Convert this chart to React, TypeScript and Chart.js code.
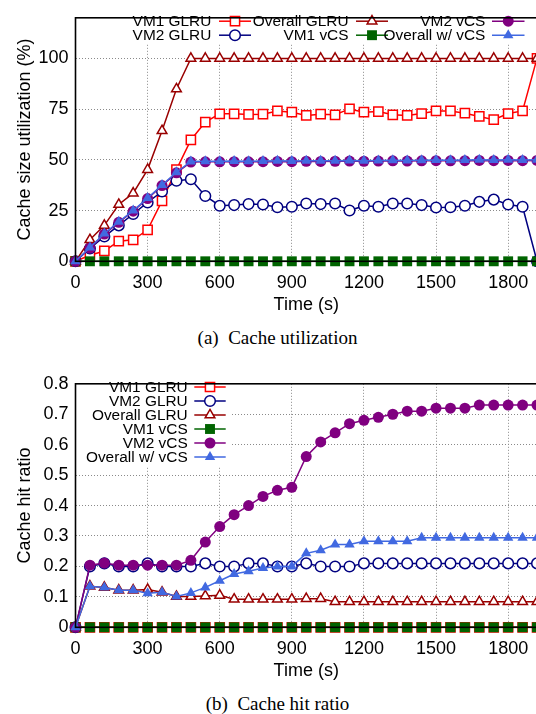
import React, { useEffect, useRef } from "react";
import { Chart, registerables } from "chart.js";

Chart.register(...registerables);

// ---------------- data ----------------
const TIMES = [0, 60, 120, 180, 240, 300, 360, 420, 480, 540, 600, 660, 720, 780, 840, 900, 960, 1020, 1080, 1140, 1200, 1260, 1320, 1380, 1440, 1500, 1560, 1620, 1680, 1740, 1800, 1860, 1920];
const X_TICKS = [0, 300, 600, 900, 1200, 1500, 1800];
const UTIL_Y_TICKS = [0, 25, 50, 75, 100];
const HIT_Y_TICKS = [0, 0.1, 0.2, 0.3, 0.4, 0.5, 0.6, 0.7, 0.8];
const SERIES_LABELS = ["VM1 GLRU", "VM2 GLRU", "Overall GLRU", "VM1 vCS", "VM2 vCS", "Overall w/ vCS"];

// (a) Cache size utilization (%)
const UTIL_VM1_GLRU = [0, 3, 5.1, 9.9, 10.6, 15.5, 29.8, 45.2, 59.8, 68.6, 72.7, 72.7, 72.4, 72.5, 74.1, 73.5, 71.9, 72.5, 72.2, 75.1, 73.5, 73.8, 72.2, 71.9, 72.8, 74.1, 74.1, 73.0, 71.4, 69.8, 72.8, 74.1, 100];
const UTIL_VM2_GLRU = [0, 6.3, 12.2, 17.7, 23.3, 29.0, 34.4, 39.7, 40.4, 32.2, 27.4, 27.7, 28.2, 28.0, 26.6, 26.9, 28.5, 28.2, 28.5, 25.0, 27.4, 26.9, 28.5, 28.5, 27.7, 26.5, 26.6, 27.4, 29.3, 30.4, 28.0, 26.9, 0];
const UTIL_OVERALL_GLRU = [0, 10.6, 17.7, 28.0, 33.6, 45.2, 64.3, 84.9, 100, 100, 100, 100, 100, 100, 100, 100, 100, 100, 100, 100, 100, 100, 100, 100, 100, 100, 100, 100, 100, 100, 100, 100, 100];
const UTIL_VM1_VCS = [0, 0, 0, 0, 0, 0, 0, 0, 0, 0, 0, 0, 0, 0, 0, 0, 0, 0, 0, 0, 0, 0, 0, 0, 0, 0, 0, 0, 0, 0, 0, 0, 0];
const UTIL_VM2_VCS = [0, 6.5, 13.4, 19.2, 24.7, 30.9, 37.3, 43.6, 48.9, 49.0, 49.0, 49.1, 49.0, 49.1, 49.2, 49.1, 49.3, 49.2, 49.3, 49.4, 49.3, 49.4, 49.5, 49.4, 49.5, 49.6, 49.5, 49.6, 49.7, 49.6, 49.7, 49.6, 49.7];
const UTIL_OVERALL_VCS = [0, 6.8, 13.7, 19.5, 25.0, 31.2, 37.6, 43.9, 49.2, 49.3, 49.3, 49.4, 49.3, 49.4, 49.5, 49.4, 49.6, 49.5, 49.6, 49.7, 49.6, 49.7, 49.8, 49.7, 49.8, 49.9, 49.8, 49.9, 50.0, 49.9, 50.0, 49.9, 50.0];

// (b) Cache hit ratio
const HIT_VM1_GLRU = [0, 0, 0, 0, 0, 0, 0, 0, 0, 0, 0, 0, 0, 0, 0, 0, 0, 0, 0, 0, 0, 0, 0, 0, 0, 0, 0, 0, 0, 0, 0, 0, 0];
const HIT_VM2_GLRU = [0, 0.20, 0.21, 0.20, 0.20, 0.21, 0.20, 0.20, 0.20, 0.21, 0.20, 0.20, 0.21, 0.21, 0.20, 0.20, 0.21, 0.20, 0.20, 0.20, 0.21, 0.21, 0.21, 0.21, 0.21, 0.21, 0.21, 0.21, 0.21, 0.21, 0.21, 0.21, 0.21];
const HIT_OVERALL_GLRU = [0, 0.135, 0.131, 0.122, 0.122, 0.124, 0.115, 0.101, 0.101, 0.103, 0.105, 0.092, 0.092, 0.092, 0.092, 0.092, 0.094, 0.094, 0.084, 0.084, 0.084, 0.084, 0.084, 0.084, 0.084, 0.084, 0.084, 0.084, 0.084, 0.084, 0.084, 0.084, 0.084];
const HIT_VM1_VCS = [0, 0, 0, 0, 0, 0, 0, 0, 0, 0, 0, 0, 0, 0, 0, 0, 0, 0, 0, 0, 0, 0, 0, 0, 0, 0, 0, 0, 0, 0, 0, 0, 0];
const HIT_VM2_VCS = [0, 0.204, 0.211, 0.204, 0.204, 0.204, 0.204, 0.204, 0.22, 0.28, 0.331, 0.37, 0.40, 0.43, 0.45, 0.46, 0.561, 0.609, 0.639, 0.669, 0.68, 0.69, 0.70, 0.71, 0.71, 0.72, 0.72, 0.72, 0.73, 0.73, 0.73, 0.73, 0.73];
const HIT_OVERALL_VCS = [0, 0.135, 0.131, 0.122, 0.122, 0.112, 0.115, 0.101, 0.113, 0.131, 0.153, 0.175, 0.184, 0.195, 0.20, 0.20, 0.243, 0.253, 0.272, 0.272, 0.283, 0.283, 0.283, 0.283, 0.294, 0.294, 0.294, 0.294, 0.294, 0.294, 0.294, 0.294, 0.294];

// ---------------- styles ----------------
const FONT = "'Liberation Sans', Arial, Helvetica, sans-serif";
const SERIF = "'Liberation Serif', 'Times New Roman', Times, serif";

type Shape = "rect" | "circle" | "triangle";
interface SeriesStyle { color: string; shape: Shape; filled: boolean; r: number }

const STYLES: SeriesStyle[] = [
  { color: "#ff0000", shape: "rect", filled: false, r: 6.5 },
  { color: "#000080", shape: "circle", filled: false, r: 5.3 },
  { color: "#990000", shape: "triangle", filled: false, r: 5.6 },
  { color: "#006400", shape: "rect", filled: true, r: 7 },
  { color: "#800080", shape: "circle", filled: true, r: 5.5 },
  { color: "#4169e1", shape: "triangle", filled: true, r: 6 },
];

function drawMarker(ctx: CanvasRenderingContext2D, st: SeriesStyle, x: number, y: number) {
  const r = st.r;
  ctx.beginPath();
  if (st.shape === "rect") {
    const s = Math.SQRT1_2 * r;
    ctx.rect(x - s, y - s, 2 * s, 2 * s);
  } else if (st.shape === "circle") {
    ctx.arc(x, y, r, 0, Math.PI * 2);
  } else {
    ctx.moveTo(x, y - r);
    ctx.lineTo(x + 0.866 * r, y + 0.5 * r);
    ctx.lineTo(x - 0.866 * r, y + 0.5 * r);
    ctx.closePath();
  }
  if (st.filled) {
    ctx.fillStyle = st.color;
    ctx.fill();
  } else {
    ctx.fillStyle = "#ffffff";
    ctx.fill();
    ctx.strokeStyle = st.color;
    ctx.lineWidth = 1.5;
    ctx.stroke();
  }
}

interface LegendItem { series: number; textRight: number; x1: number; x2: number; y: number }
interface LegendLayout { box: { x: number; y: number; w: number; h: number }; items: LegendItem[] }

function legendPlugin(layout: LegendLayout) {
  return {
    id: "gpLegend",
    beforeDatasetsDraw(chart: any) {
      const ctx: CanvasRenderingContext2D = chart.ctx;
      ctx.save();
      ctx.fillStyle = "#ffffff";
      ctx.fillRect(layout.box.x, layout.box.y, layout.box.w, layout.box.h);
      ctx.font = `15.4px ${FONT}`;
      ctx.textAlign = "right";
      ctx.textBaseline = "middle";
      layout.items.forEach((it) => {
        const st = STYLES[it.series];
        ctx.fillStyle = "#000";
        ctx.fillText(SERIES_LABELS[it.series], it.textRight, it.y + 0.8);
        ctx.strokeStyle = st.color;
        ctx.lineWidth = 1.5;
        ctx.beginPath();
        ctx.moveTo(it.x1, it.y);
        ctx.lineTo(it.x2, it.y);
        ctx.stroke();
        drawMarker(ctx, st, (it.x1 + it.x2) / 2, it.y);
      });
      ctx.restore();
    },
  };
}

const borderPlugin = {
  id: "gpBorder",
  afterDatasetsDraw(chart: any) {
    const { ctx, chartArea } = chart;
    ctx.save();
    ctx.strokeStyle = "#000";
    ctx.lineWidth = 1.6;
    ctx.strokeRect(chartArea.left, chartArea.top, chartArea.right - chartArea.left, chartArea.bottom - chartArea.top);
    ctx.restore();
  },
};

function buildDatasets(series: number[][]) {
  return series.map((vals, i) => {
    const st = STYLES[i];
    return {
      label: SERIES_LABELS[i],
      data: TIMES.map((t, k) => ({ x: t, y: vals[k] })),
      order: series.length - i, // later series are drawn on top, as in the original
      borderColor: st.color,
      backgroundColor: st.color,
      borderWidth: 1.5,
      pointStyle: st.shape,
      pointRadius: st.r,
      pointBorderWidth: st.filled ? 0 : 1.5,
      pointBackgroundColor: st.filled ? st.color : "#ffffff",
      pointBorderColor: st.color,
      tension: 0,
      clip: false as any,
    };
  });
}

const CANVAS_W = 560;
const CANVAS_H = 320;

function makeChart(
  canvas: HTMLCanvasElement,
  series: number[][],
  yMax: number,
  yTicks: number[],
  yTitle: string,
  legend: LegendLayout
) {
  return new Chart(canvas, {
    type: "line",
    data: { datasets: buildDatasets(series) as any },
    options: {
      responsive: false,
      animation: false,
      events: [],
      layout: { padding: { top: 10, right: 23, left: 0, bottom: 0 } },
      plugins: { legend: { display: false }, tooltip: { enabled: false }, title: { display: false } },
      scales: {
        x: {
          type: "linear",
          min: 0,
          max: 1920,
          afterBuildTicks: (scale: any) => {
            scale.ticks = X_TICKS.map((v) => ({ value: v }));
          },
          afterFit: (scale: any) => {
            scale.height = 58.7;
          },
          ticks: {
            color: "#000",
            font: { family: FONT, size: 18 },
            padding: 11,
            maxRotation: 0,
            autoSkip: false,
            callback: (v: any) => String(v),
          },
          grid: { color: "#8a8a8a", lineWidth: 1, drawTicks: false },
          border: { display: false, dash: [1, 2] },
          title: { display: true, text: "Time (s)", color: "#000", font: { family: FONT, size: 18 }, padding: { top: 0, bottom: 4.5 } },
        },
        y: {
          type: "linear",
          min: 0,
          max: yMax,
          afterBuildTicks: (scale: any) => {
            scale.ticks = yTicks.map((v) => ({ value: v }));
          },
          afterFit: (scale: any) => {
            scale.width = 75.5;
          },
          ticks: {
            color: "#000",
            font: { family: FONT, size: 18 },
            padding: 7,
            autoSkip: false,
            callback: (v: any) => String(Math.round(Number(v) * 1000) / 1000),
          },
          grid: { color: "#8a8a8a", lineWidth: 1, drawTicks: false },
          border: { display: false, dash: [1, 2] },
          title: { display: true, text: yTitle, color: "#000", font: { family: FONT, size: 18 }, padding: { top: 14, bottom: 0 } },
        },
      },
    },
    plugins: [legendPlugin(legend), borderPlugin],
  });
}

const TOP_LEGEND: LegendLayout = {
  box: { x: 76, y: 10, w: 480, h: 34 },
  items: [
    { series: 0, textRight: 211.3, x1: 219, x2: 251, y: 21.2 },
    { series: 1, textRight: 211.3, x1: 219, x2: 251, y: 35.2 },
    { series: 2, textRight: 348.5, x1: 356, x2: 388, y: 21.2 },
    { series: 3, textRight: 348.5, x1: 356, x2: 388, y: 35.2 },
    { series: 4, textRight: 485.3, x1: 492, x2: 524.5, y: 21.2 },
    { series: 5, textRight: 485.3, x1: 492, x2: 524.5, y: 35.2 },
  ],
};

const BOTTOM_LEGEND: LegendLayout = {
  box: { x: 76, y: 10, w: 154, h: 90 },
  items: [
    { series: 0, textRight: 187.7, x1: 194.3, x2: 225.7, y: 21 },
    { series: 1, textRight: 187.7, x1: 194.3, x2: 225.7, y: 35 },
    { series: 2, textRight: 187.7, x1: 194.3, x2: 225.7, y: 49 },
    { series: 3, textRight: 187.7, x1: 194.3, x2: 225.7, y: 63 },
    { series: 4, textRight: 187.7, x1: 194.3, x2: 225.7, y: 77 },
    { series: 5, textRight: 187.7, x1: 194.3, x2: 225.7, y: 91 },
  ],
};

export default function App() {
  const topRef = useRef<HTMLCanvasElement>(null);
  const botRef = useRef<HTMLCanvasElement>(null);

  useEffect(() => {
    const c1 = makeChart(
      topRef.current!,
      [UTIL_VM1_GLRU, UTIL_VM2_GLRU, UTIL_OVERALL_GLRU, UTIL_VM1_VCS, UTIL_VM2_VCS, UTIL_OVERALL_VCS],
      120,
      UTIL_Y_TICKS,
      "Cache size utilization (%)",
      TOP_LEGEND
    );
    const c2 = makeChart(
      botRef.current!,
      [HIT_VM1_GLRU, HIT_VM2_GLRU, HIT_OVERALL_GLRU, HIT_VM1_VCS, HIT_VM2_VCS, HIT_OVERALL_VCS],
      0.8,
      HIT_Y_TICKS,
      "Cache hit ratio",
      BOTTOM_LEGEND
    );
    return () => {
      c1.destroy();
      c2.destroy();
    };
  }, []);

  const captionStyle: React.CSSProperties = {
    position: "absolute",
    left: 0,
    width: 555,
    textAlign: "center",
    fontFamily: SERIF,
    fontSize: 19,
    lineHeight: "22px",
    whiteSpace: "pre",
    color: "#000",
  };

  return (
    <div style={{ position: "fixed", left: 0, top: 0, width: 536, height: 714, overflow: "hidden", background: "#fff" }}>
      <canvas ref={topRef} width={CANVAS_W} height={CANVAS_H} style={{ position: "absolute", left: 0, top: 0 }} />
      <div style={{ ...captionStyle, top: 326.5 }}>{"(a)  Cache utilization"}</div>
      <canvas ref={botRef} width={CANVAS_W} height={CANVAS_H} style={{ position: "absolute", left: 0, top: 366 }} />
      <div style={{ ...captionStyle, top: 693 }}>{"(b)  Cache hit ratio"}</div>
    </div>
  );
}
